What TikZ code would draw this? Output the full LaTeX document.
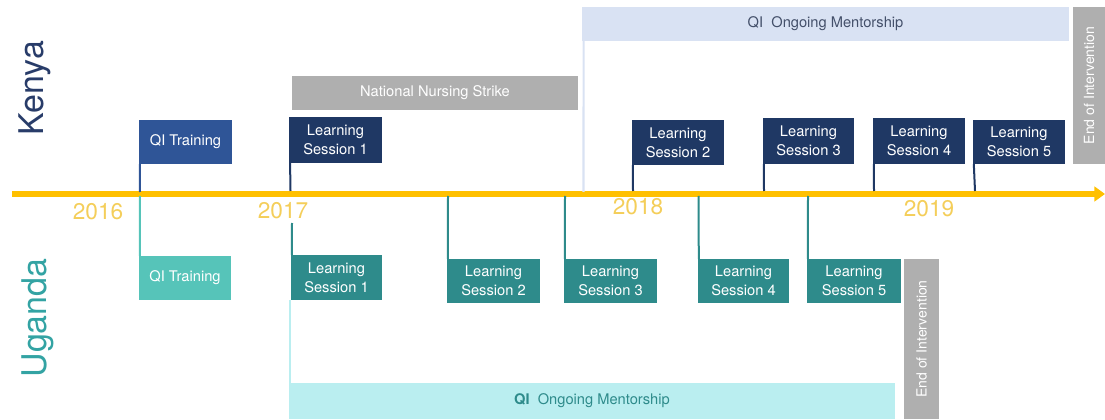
\documentclass[tikz,border=0pt]{standalone}
\usepackage{fontspec}
\setmainfont{TeX Gyre Heros}
\usetikzlibrary{arrows.meta}
\definecolor{axisgold}{HTML}{FFC000}
\definecolor{yeargold}{HTML}{F4CE5A}
\definecolor{kenyanavy}{HTML}{1F3864}
\definecolor{kenyablue}{HTML}{2F5597}
\definecolor{kenyalabel}{HTML}{283C69}
\definecolor{kenyament}{HTML}{D9E2F3}
\definecolor{kenyamenttext}{HTML}{44506A}
\definecolor{ugandateal}{HTML}{2E8B8B}
\definecolor{ugandalight}{HTML}{56C4B9}
\definecolor{ugandalabel}{HTML}{33A3A3}
\definecolor{ugandament}{HTML}{BAEEF0}
\definecolor{eventgray}{HTML}{AFAFAF}
\tikzset{
  wh/.style 2 args={minimum width=#1*0.75pt, minimum height=#2*0.75pt},
  box/.style={inner sep=0pt, outer sep=0pt, text=white, align=center,
    font=\fontsize{11}{14}\selectfont},
  kbox/.style={box, fill=kenyanavy},
  ubox/.style={box, fill=ugandateal},
  graybox/.style={box, fill=eventgray},
  endtext/.style={rotate=90, text=white, inner sep=0pt, font=\fontsize{10.5}{12}\selectfont},
  kpole/.style={draw=kenyanavy, line width=1.5pt},
  upole/.style={draw=ugandateal, line width=1.5pt},
  year/.style={text=yeargold, font=\fontsize{17}{20}\selectfont},
  country/.style={rotate=90, font=\fontsize{25.5}{30}\selectfont},
}
\begin{document}
\begin{tikzpicture}[x=0.75pt, y=-0.75pt]
\useasboundingbox (0,0) rectangle (1105,420);

% --- time axis ---
\coordinate (axstart) at (12,194);
\coordinate (axend) at (1105,194);
\draw[axisgold, line width=3.8pt, -{Triangle[length=8pt,width=11pt]}] (axstart) -- (axend);

\node[year] (y2016) at (98,212) {2016};
\node[year] (y2017) at (283,211) {2017};
\node[year] (y2018) at (638,207) {2018};
\node[year] (y2019) at (929,209) {2019};

% --- country labels ---
\node[country, text=kenyalabel] (kenya) at (35,88) {Kenya};
\node[country, text=ugandalabel] (uganda) at (38,318) {Uganda};

% --- Kenya: ongoing mentorship and strike ---
\node[box, fill=kenyament, text=kenyamenttext, wh={487}{34}] (kment) at (825.5,24) {QI\ \ Ongoing Mentorship};
\coordinate (kmentaxis) at (583.5,192);
\draw[kenyament, line width=1.6pt] ([xshift=1.2pt]kment.south west) -- (kmentaxis);
\node[graybox, wh={286}{34}] (strike) at (435,93) {National Nursing Strike};
\node[graybox, wh={32}{157}] (kend) at (1089,85.5) {};
\node[endtext] (kendtext) at (kend.center) {End of Intervention};

% --- Kenya flags ---
\node[box, fill=kenyablue, wh={93}{44}] (kqi) at (185.5,142) {QI Training};
\node[kbox, wh={93}{46}] (kls1) at (335.5,140) {Learning\\Session 1};
\node[kbox, wh={92}{45}] (kls2) at (678,142.5) {Learning\\Session 2};
\node[kbox, wh={91}{46}] (kls3) at (808.5,141) {Learning\\Session 3};
\node[kbox, wh={92}{46}] (kls4) at (919,141) {Learning\\Session 4};
\node[kbox, wh={92}{44}] (kls5) at (1019,142) {Learning\\Session 5};

\coordinate (kqiA) at (140,192);
\coordinate (kls1A) at (290.5,191);
\coordinate (kls2A) at (633,191);
\coordinate (kls3A) at (764,191);
\coordinate (kls4A) at (874,191);
\coordinate (kls5A) at (975,191);
\draw[draw=kenyablue, line width=1.5pt] ([xshift=0.6pt]kqi.south west) -- (kqiA);
\draw[kpole] ([xshift=0.8pt]kls1.south west) -- (kls1A);
\draw[kpole] ([xshift=0.6pt]kls2.south west) -- (kls2A);
\draw[kpole] ([xshift=0.6pt]kls3.south west) -- (kls3A);
\draw[kpole] ([xshift=0.6pt]kls4.south west) -- (kls4A);
\draw[kpole] ([xshift=0.6pt]kls5.south west) -- (kls5A);

% --- Uganda: ongoing mentorship ---
\node[box, fill=ugandament, text=ugandateal, wh={606}{36}] (ument) at (592,401) {\textbf{QI}\ \ Ongoing Mentorship};
\coordinate (umenttop) at (290,300);
\draw[ugandament, line width=1.6pt] (umenttop) -- ([xshift=0.75pt]ument.north west);
\node[graybox, wh={35}{160}] (uend) at (921.5,339) {};
\node[endtext] (uendtext) at (uend.center) {End of Intervention};

% --- Uganda flags ---
\node[box, fill=ugandalight, wh={92}{44}] (uqi) at (185,278) {QI Training};
\node[ubox, wh={91}{45}] (uls1) at (336.5,277.5) {Learning\\Session 1};
\node[ubox, wh={93}{44}] (uls2) at (493.5,281) {Learning\\Session 2};
\node[ubox, wh={93}{44}] (uls3) at (610.5,281) {Learning\\Session 3};
\node[ubox, wh={91}{44}] (uls4) at (743.5,281) {Learning\\Session 4};
\node[ubox, wh={94}{44}] (uls5) at (854,281) {Learning\\Session 5};

\coordinate (uqiA) at (140,196);
\coordinate (uls1A) at (292,223);
\coordinate (uls2A) at (448,196);
\coordinate (uls3A) at (565,196);
\coordinate (uls4A) at (698.5,196);
\coordinate (uls5A) at (808,196);
\draw[draw=ugandalight, line width=1.5pt] (uqiA) -- ([xshift=0.6pt]uqi.north west);
\draw[upole] (uls1A) -- ([xshift=0.6pt]uls1.north west);
\draw[upole] (uls2A) -- ([xshift=0.6pt]uls2.north west);
\draw[upole] (uls3A) -- ([xshift=0.6pt]uls3.north west);
\draw[upole] (uls4A) -- ([xshift=0.6pt]uls4.north west);
\draw[upole] (uls5A) -- ([xshift=0.6pt]uls5.north west);
\end{tikzpicture}
\end{document}
